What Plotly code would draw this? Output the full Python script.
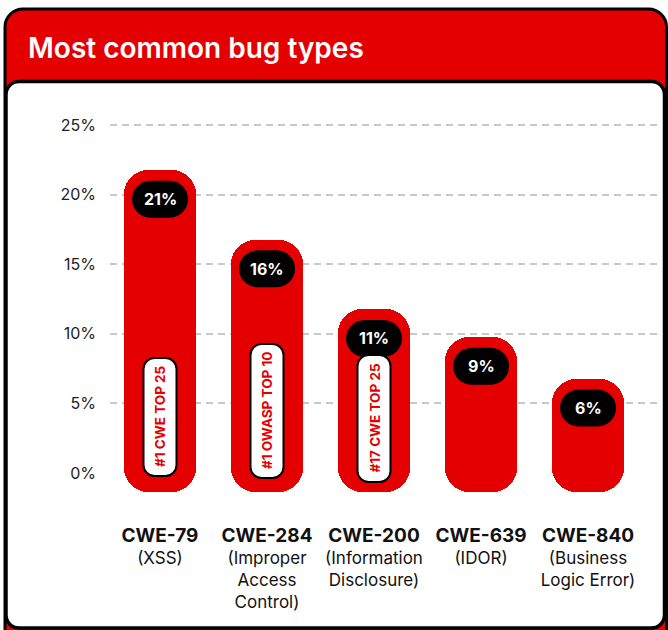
import plotly.graph_objects as go

# ---- data ---------------------------------------------------------------
categories = ["CWE-79", "CWE-284", "CWE-200", "CWE-639", "CWE-840"]
descriptions = [
    "(XSS)",
    "(Improper<br>Access<br>Control)",
    "(Information<br>Disclosure)",
    "(IDOR)",
    "(Business<br>Logic Error)",
]
shares = [21, 16, 11, 9, 6]  # percent of reports
rankings = ["#1 CWE TOP 25", "#1 OWASP TOP 10", "#17 CWE TOP 25", None, None]
y_ticks = [0, 5, 10, 15, 20, 25]

# ---- layout geometry (pixels) -----------------------------------------
W, H = 668, 630
RED = "#E40000"
INK = "#111111"
FONT = "Inter"

PL, PR, PT, PB = 110, 663, 111, 501          # plot area edges
Y0_PX, Y25_PX = 473, 125                     # where 0 % and 25 % sit
PX_PER_UNIT = (Y0_PX - Y25_PX) / 25
y_range = [-(PB - Y0_PX) / PX_PER_UNIT, 25 + (Y25_PX - PT) / PX_PER_UNIT]
X0_PX, STEP = 160, 107                       # first category centre, spacing
x_range = [(PL - X0_PX) / STEP, (PR - X0_PX) / STEP]

BAR_W = 72 / STEP
BAR_PAD = 0.75          # rounded cap rises a little above the value
BAR_FLOOR = -1.37       # bars start a little below the zero line
RADIUS = 24

K = 0.5523


def rounded_rect(x0, y0, x1, y1, r):
    """Rounded rectangle as an SVG path (y up), corners from cubic curves."""
    c = r * K
    return (
        f"M{x0 + r},{y0} L{x1 - r},{y0} "
        f"C{x1 - r + c},{y0} {x1},{y0 + r - c} {x1},{y0 + r} "
        f"L{x1},{y1 - r} "
        f"C{x1},{y1 - r + c} {x1 - r + c},{y1} {x1 - r},{y1} "
        f"L{x0 + r},{y1} "
        f"C{x0 + r - c},{y1} {x0},{y1 - r + c} {x0},{y1 - r} "
        f"L{x0},{y0 + r} "
        f"C{x0},{y0 + r - c} {x0 + r - c},{y0} {x0 + r},{y0} Z"
    )


def page_rect(X0, Y0, X1, Y1, r):
    """Page-pixel rectangle (y down) expressed relative to the plot's lower-left corner."""
    return rounded_rect(X0 - PL, PB - Y1, X1 - PL, PB - Y0, r)


xs = list(range(len(categories)))
tops = [v + BAR_PAD for v in shares]

fig = go.Figure()

# Bars float from just below zero to just above their value; with an
# explicit base the corner rounding is applied at both ends.
fig.add_trace(go.Bar(
    x=xs, y=[t - BAR_FLOOR for t in tops], base=[BAR_FLOOR] * len(xs),
    width=BAR_W, marker=dict(color=RED, line=dict(width=0), cornerradius=RADIUS),
    hoverinfo="skip", showlegend=False,
))

shapes = []
annotations = []

# Card: red header with a white panel on top of it
shapes.append(dict(
    type="path", layer="below", xref="paper", yref="paper",
    xsizemode="pixel", ysizemode="pixel", xanchor=0, yanchor=0,
    path=page_rect(5, 9, 666.5, 700, 18),
    fillcolor=RED, line=dict(color="black", width=3),
))
shapes.append(dict(
    type="path", layer="below", xref="paper", yref="paper",
    xsizemode="pixel", ysizemode="pixel", xanchor=0, yanchor=0,
    path=page_rect(6, 81.5, 664.5, 628, 13),
    fillcolor="white", line=dict(color="black", width=3.5),
))

# Value badges near the top of each bar
BADGE_W, BADGE_H, BADGE_DROP = 56, 37, 29
for x, top, v in zip(xs, tops, shares):
    shapes.append(dict(
        type="path", layer="above", xref="x", yref="y",
        xsizemode="pixel", ysizemode="pixel", xanchor=x, yanchor=top,
        path=rounded_rect(-BADGE_W / 2, -BADGE_DROP - BADGE_H / 2,
                          BADGE_W / 2, -BADGE_DROP + BADGE_H / 2, BADGE_H / 2),
        fillcolor="black", line=dict(width=0),
    ))
    annotations.append(dict(
        x=x, y=top, xref="x", yref="y", yshift=-BADGE_DROP, showarrow=False,
        text=f"{v}%", font=dict(family=FONT, size=16, color="white", weight=700),
        xanchor="center", yanchor="middle",
    ))

# Vertical ranking pills at the foot of the bars
PILL_W = 33
pill_heights = [118, 134, 127]
pill_drop = [3, 5, 9]
for x, label, h, d in zip(xs, rankings, pill_heights + [0, 0], pill_drop + [0, 0]):
    if not label:
        continue
    shapes.append(dict(
        type="path", layer="above", xref="x", yref="y",
        xsizemode="pixel", ysizemode="pixel", xanchor=x, yanchor=0,
        path=rounded_rect(-PILL_W / 2, -d, PILL_W / 2, h - d, 11),
        fillcolor="white", line=dict(color="black", width=2),
    ))
    annotations.append(dict(
        x=x, y=0, xref="x", yref="y", yshift=h / 2 - d, showarrow=False,
        text=label, textangle=-90,
        font=dict(family=FONT, size=13.5, color=RED, weight=700),
        xanchor="center", yanchor="middle",
    ))

tick_text = [
    f"<span style='font-size:19px'><b>{c}</b></span><br>{d}"
    for c, d in zip(categories, descriptions)
]

fig.update_layout(
    width=W, height=H,
    margin=dict(l=PL, r=W - PR, t=PT, b=H - PB, pad=0),
    paper_bgcolor="white", plot_bgcolor="rgba(0,0,0,0)",
    barmode="overlay", bargap=0,
    title=dict(
        text="Most common bug types", xref="container", yref="container",
        x=28 / W, xanchor="left", y=1 - 48 / H, yanchor="middle",
        font=dict(family=FONT, size=28, color="white", weight=600),
    ),
    shapes=shapes, annotations=annotations,
    xaxis=dict(
        range=x_range, tickmode="array", tickvals=xs, ticktext=tick_text,
        showgrid=False, zeroline=False, showline=False, ticks="",
        tickfont=dict(family=FONT, size=17, color=INK),
        ticklabelstandoff=23, fixedrange=True,
    ),
    yaxis=dict(
        range=y_range, tickmode="array", tickvals=y_ticks,
        ticktext=[f"{t}%" for t in y_ticks],
        showgrid=True, gridcolor="#C8C8C8", gridwidth=1.5, griddash="7px,5px",
        zeroline=True, zerolinecolor="rgba(0,0,0,0)",
        showline=False, ticks="",
        tickfont=dict(family=FONT, size=16, color="#222222"),
        ticklabelstandoff=13, fixedrange=True,
    ),
    font=dict(family=FONT),
)

fig.write_html("out.html", config={"displayModeBar": False})
